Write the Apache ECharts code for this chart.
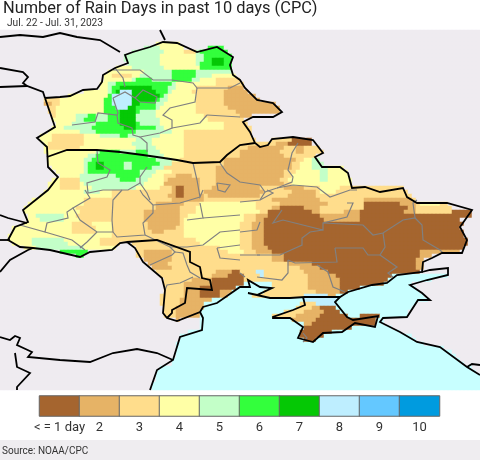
<!DOCTYPE html>
<html>
<head>
<meta charset="utf-8">
<style>html,body{margin:0;padding:0;background:#fff}#chart{width:480px;height:460px}</style>
<script src="https://cdn.jsdelivr.net/npm/echarts@6/dist/echarts.min.js"></script>
</head>
<body>
<div id="chart"></div>
<script>
const titleText = 'Number of Rain Days in past 10 days (CPC)';
const subtitleText = 'Jul. 22 - Jul. 31, 2023';
const sourceText = 'Source: NOAA/CPC';
const legendLabels = ['< = 1 day', '2', '3', '4', '5', '6', '7', '8', '9', '10'];
const legendValues = [1, 2, 3, 4, 5, 6, 7, 8, 9, 10];
const dayColors = ['#A5652F', '#E6B366', '#FFDD8C', '#FFFFA6', '#C3FFC8', '#33FF3C', '#05C805', '#BEEEFF', '#64C8FF', '#009BDF'];

// rain day class per grid row, as runs: class + last column (g other land, s sea)
const rainRows = [
  'g120', 'g120', 'g120',
  'g39 445 g120',
  'g36 540 446 g52 656 g120',
  'g33 541 446 349 550 657 g120',
  'g31 540 449 551 658 g120',
  'g31 540 449 551 653 756 658 g120',
  'g32 540 449 550 653 756 658 g120',
  'g29 433 541 450 658 g120',
  'g27 436 543 649 558 g120',
  'g26 428 333 435 543 649 553 459 g120',
  'g26 433 534 638 543 648 550 454 360 g120',
  'g25 427 529 643 544 454 361 g120',
  'g25 427 528 630 738 642 544 449 357 261 g120',
  'g21 427 528 629 730 833 739 642 543 448 356 262 g120',
  'g17 427 628 833 740 641 542 449 356 264 g120',
  'g11 315 426 628 833 739 640 542 449 356 265 g120',
  'g11 213 315 426 628 833 735 639 541 449 356 269 g120',
  'g12 314 426 629 832 734 639 540 449 357 270 g120',
  'g12 314 426 630 734 635 539 449 359 270 g120',
  'g13 314 419 522 624 527 630 734 539 451 360 263 g120',
  'g13 419 521 624 527 630 734 540 452 361 g120',
  'g14 418 524 630 734 635 540 456 362 g120',
  'g13 416 523 631 734 639 541 456 363 g120',
  'g12 420 524 634 543 446 363 g120',
  'g10 413 321 425 530 632 540 446 363 g120',
  'g10 413 321 434 538 446 364 g68 373 178 g120',
  'g11 412 321 433 538 446 369 272 178 g120',
  'g11 412 320 434 539 446 362 271 374 276 380 g120',
  'g11 424 525 630 534 637 540 446 360 270 374 276 381 g120',
  'g12 422 524 637 541 446 360 271 379 g120',
  'g12 421 523 639 543 445 356 274 376 478 580 g120',
  'g12 421 522 624 726 631 533 640 543 356 273 375 478 581 g120',
  'g13 421 522 624 726 631 533 638 541 354 273 375 478 582 486 g120',
  'g14 421 522 635 539 443 354 271 374 480 582 487 g120',
  'g15 420 529 635 538 441 344 248 354 271 373 480 582 487 g120',
  'g13 415 320 530 634 537 441 342 250 354 270 372 480 582 488 g120',
  'g12 415 320 421 536 441 250 354 271 373 488 g120',
  'g12 415 320 423 534 440 343 244 146 250 353 265 371 276 380 485 3101 g120',
  'g11 421 525 428 343 244 146 250 351 266 373 279 380 484 3102 g120',
  'g10 428 342 244 146 251 352 265 372 279 3103 g120',
  'g8 421 343 251 368 280 391 2103 3104 g120',
  'g7 421 339 246 350 464 370 282 391 1100 2104 3105 4110 3112 g120',
  'g6 419 339 245 349 464 368 270 176 280 391 1102 2104 3113 g120',
  'g6 420 336 245 349 465 367 178 280 386 290 1101 2104 3113 1118 g120',
  'g7 49 516 419 336 245 347 461 364 267 180 290 1118 g120',
  'g7 410 516 420 336 245 346 461 364 266 181 290 1115 g120',
  'g6 418 323 428 337 245 346 460 363 266 1116 g120',
  'g3 418 324 428 337 244 346 460 363 266 1115 g120',
  'g3 418 324 428 338 241 346 460 363 266 1116 g120',
  'g2 428 346 460 363 266 1116 g120',
  'g2 48 516 425 349 460 363 266 1117 g120',
  'g3 48 517 425 330 g33 350 460 363 266 1117 g120',
  'g6 49 521 429 g34 355 460 363 267 1116 g120',
  'g15 622 g34 336 243 357 461 364 268 1105 2115 g120',
  'g19 621 g34 336 243 368 271 1105 2108 g120',
  'g36 243 368 271 1104 2106 g120',
  'g37 242 372 278 1104 2106 g120',
  'g38 243 375 280 1104 2106 g120',
  'g39 354 258 160 364 866 376 282 1105 g120',
  'g40 353 257 161 365 866 377 284 198 s112 g120',
  'g41 348 253 161 377 285 197 s108 g120',
  'g41 346 253 161 s68 377 285 196 s103 g120',
  'g41 346 250 159 s68 377 285 190 s104 g120',
  'g41 346 250 155 258 s66 379 285 187 s105 g120',
  'g40 346 250 155 257 s63 376 882 284 s106 g120',
  'g40 345 253 s76 884 s107 g120',
  'g40 345 251 s75 379 884 s104 g120',
  'g41 344 251 s74 378 280 184 s103 g120',
  'g41 344 250 s71 376 281 185 s102 g120',
  'g41 344 250 s68 374 280 187 s90 195 s102 g120',
  'g44 245 g50 s73 279 194 s96 g120',
  'g50 s76 278 194 s96 g120',
  'g50 s76 188 s98 g120',
  'g47 s75 183 s100 g120',
  'g45 s75 181 s103 g120',
  'g45 s76 179 s104 g120',
  'g44 s106 g120',
  'g44 s111 g120',
  'g44 s113 g120',
  'g44 s114 g120',
  'g43 s115 g120',
  'g43 s116 g120',
  'g40 s118 g120',
  'g39 s119 g120',
  'g39 s120',
  'g39 s120',
  'g38 s120',
  'g38 s120'
];

// country borders, in map units
const countryLines = [
  [[45,98],[60,97],[70,96],[83,90],[97,89],[102,82],[103,75],[115,68],[128,63],[125,55],[133,52],[150,47],[163,42],[177,43],[197,52],[217,47],[233,57],[230,65],[233,75],[240,80],[245,88],[257,100],[273,103],[282,112],[273,117],[253,117],[243,122],[250,132],[255,143],[260,147],[268,145],[272,139],[293,137],[313,140],[323,153],[315,157],[322,167],[340,167],[348,173],[352,188],[365,187],[380,192],[403,188],[407,197],[417,203],[447,203],[472,210],[460,227],[467,240],[462,253],[442,253],[432,258],[423,262],[422,272],[397,275],[387,283],[372,285],[348,292],[340,297],[333,297],[305,297],[290,298],[270,298],[248,293],[257,295],[272,288],[260,287],[248,280],[250,287],[240,287],[217,303],[203,307],[200,312],[177,321],[167,318],[163,313],[165,290],[162,278],[143,262],[135,248],[127,242],[120,243],[112,250],[90,252],[80,257],[50,250],[33,248],[20,247],[8,240],[15,227],[28,222],[23,210],[48,190],[58,177],[48,167],[47,147],[37,138],[55,127],[45,98]],
  [[47,157],[67,150],[97,150],[120,152],[143,155],[157,157],[177,160],[193,163],[220,162],[227,155],[240,145],[255,143]],
  [[127,242],[157,240],[190,252],[190,262],[200,267],[202,278],[210,280],[212,290],[187,288],[185,303],[172,310],[172,313],[167,318]],
  [[340,297],[335,302],[347,317],[353,320],[378,316],[375,327],[355,323],[342,332],[323,333],[313,342],[298,338],[303,327],[290,318],[273,318],[273,317],[293,310],[305,305],[303,297]],
  [[0,37],[20,35],[43,37],[60,33],[77,37],[100,40],[120,52]],
  [[160,30],[165,40]],
  [[0,68],[23,72],[28,77],[23,83],[27,86]],
  [[0,87],[27,86],[43,92],[45,98]],
  [[0,215],[8,218],[27,223]],
  [[0,240],[10,240]],
  [[33,248],[28,250],[10,260],[0,272]],
  [[200,312],[203,318],[202,330],[180,337],[173,360],[157,370],[150,390]],
  [[0,337],[10,340],[15,336],[20,338],[17,345],[32,352],[28,357],[60,360],[90,362],[113,353],[137,349],[157,353],[173,360]],
  [[15,353],[17,367],[30,373],[17,387],[17,390]],
  [[422,272],[430,270],[448,268],[448,275],[427,280],[410,285],[422,293],[430,300],[418,300],[407,317],[383,318],[380,322],[400,332],[417,342],[440,347],[467,367],[480,375]],
  [[467,367],[472,364],[480,365]]
];

// oblast borders, in map units
const oblastLines = [
  [[113,70],[140,70],[153,80],[172,80],[193,83],[197,88],[230,88],[240,83]],
  [[115,68],[123,78],[125,87]],
  [[197,88],[195,102],[170,108],[163,115],[172,120],[172,128],[160,133],[140,137],[147,143],[147,152]],
  [[207,115],[200,123],[172,128]],
  [[207,115],[240,117]],
  [[113,98],[118,113],[117,115],[98,113],[95,122],[72,125]],
  [[117,115],[118,123],[132,128],[133,135],[140,137]],
  [[135,98],[143,90],[157,97],[155,103],[140,102],[135,98]],
  [[113,98],[125,92],[135,98]],
  [[97,150],[98,163],[110,170],[107,177],[87,183],[88,193],[103,190],[113,190],[128,190],[140,183],[147,193],[150,200]],
  [[147,167],[140,177],[140,183]],
  [[193,163],[197,180],[200,197],[203,190]],
  [[217,183],[230,185],[225,192],[218,190],[217,183]],
  [[220,163],[227,173],[240,182],[260,185],[265,192],[260,200]],
  [[298,143],[292,153],[288,170],[293,177],[292,182],[277,188],[265,192]],
  [[277,188],[293,185],[317,187],[330,197],[350,190],[357,190]],
  [[85,190],[90,198],[73,208],[80,220],[97,232],[113,232],[112,220],[113,200],[122,190]],
  [[73,208],[67,212],[68,218],[47,223],[45,232],[20,225]],
  [[45,232],[72,240],[85,250]],
  [[97,232],[87,242],[80,248]],
  [[113,232],[117,237],[145,235],[143,223],[153,213],[153,205],[180,203],[200,197]],
  [[153,205],[143,195],[140,190]],
  [[200,203],[203,218],[187,220]],
  [[203,218],[240,215]],
  [[240,230],[220,232],[203,245],[187,247],[170,247],[145,235]],
  [[217,248],[240,245]],
  [[217,248],[220,258],[240,260]],
  [[170,247],[175,252],[172,255],[150,265]],
  [[175,252],[183,253],[187,265],[190,272],[200,278]],
  [[193,277],[180,283],[167,285],[165,290]],
  [[240,202],[260,200],[273,193],[267,190]],
  [[282,210],[273,223],[283,220],[323,230],[323,223],[347,217],[353,203],[347,203]],
  [[323,223],[363,225],[373,235],[383,233],[403,220],[415,218],[422,225],[423,240],[440,250],[443,253]],
  [[415,218],[413,203],[417,200]],
  [[323,230],[310,232],[302,238],[302,245],[280,255],[257,255]],
  [[335,248],[363,248],[368,255],[380,255],[385,247],[383,233]],
  [[335,248],[337,262],[295,263],[288,260]],
  [[380,255],[397,267],[388,273],[393,277]],
  [[288,260],[288,273],[282,280],[257,277]],
  [[317,265],[328,272],[333,287],[345,292]],
  [[240,232],[257,230],[260,222]],
  [[240,255],[260,255]],
  [[240,273],[245,277]],
  [[303,333],[307,338],[303,342]]
];

const fontName = 'Roboto';
const colCount = 120;
const classIndex = { g: 0, s: 11 };

// expand the runs into heatmap cells
const cells = [];
rainRows.forEach((row, r) => {
  let col = 0;
  row.split(' ').forEach((run) => {
    const key = run[0];
    const end = +run.slice(1);
    const value = key in classIndex ? classIndex[key] : +key;
    for (; col < end; col++) cells.push([col, r, value]);
  });
});

const colNames = Array.from({ length: colCount }, (_, i) => i);
const rowNames = rainRows.map((_, i) => i);
const pieces = [{ value: 0, color: '#EFEBF0' }, { value: 11, color: '#C8FFFF' }]
  .concat(legendValues.map((v, i) => ({ value: v, color: dayColors[i] })));

const chart = echarts.init(document.getElementById('chart'), null, { renderer: 'canvas' });
chart.setOption({
  animation: false,
  backgroundColor: '#fff',
  textStyle: { fontFamily: fontName },
  title: [
    { text: titleText, left: 3, top: 1, padding: 0, textStyle: { fontFamily: fontName, fontSize: 16.4, fontWeight: 'normal', color: '#222' } },
    { text: subtitleText, left: 7, top: 18, padding: 0, textStyle: { fontFamily: fontName, fontSize: 10.2, fontWeight: 'normal', color: '#333' } },
    { text: sourceText, left: 2, top: 446, padding: 0, textStyle: { fontFamily: fontName, fontSize: 10, fontWeight: 'normal', color: '#333' } }
  ],
  graphic: [{ type: 'rect', z: -1, shape: { x: 0, y: 440, width: 480, height: 20 }, style: { fill: '#EFEDF0' }, silent: true }],
  visualMap: { show: false, type: 'piecewise', dimension: 2, pieces: pieces, seriesIndex: [0, 3] },
  grid: [
    { left: 0, top: 30, width: 480, height: 360 },
    { left: 0, top: 30, width: 480, height: 360 },
    { left: 39.5, top: 396, width: 400, height: 20 }
  ],
  xAxis: [
    { type: 'category', gridIndex: 0, data: colNames, show: false },
    { type: 'value', gridIndex: 1, min: 0, max: 480, show: false },
    {
      type: 'category', gridIndex: 2, data: legendLabels, position: 'bottom',
      axisLine: { show: false }, axisTick: { show: false },
      axisLabel: { interval: 0, margin: 5, fontSize: 13, color: '#333', fontFamily: fontName }
    }
  ],
  yAxis: [
    { type: 'category', gridIndex: 0, data: rowNames, inverse: true, show: false },
    { type: 'value', gridIndex: 1, min: 30, max: 390, inverse: true, show: false },
    { type: 'category', gridIndex: 2, data: ['days'], show: false }
  ],
  series: [
    { type: 'heatmap', xAxisIndex: 0, yAxisIndex: 0, data: cells, silent: true, progressive: 0, z: 1 },
    {
      type: 'lines', coordinateSystem: 'cartesian2d', xAxisIndex: 1, yAxisIndex: 1, polyline: true, silent: true, z: 2,
      lineStyle: { color: '#808080', width: 1.2, opacity: 1 },
      data: oblastLines.map((coords) => ({ coords }))
    },
    {
      type: 'lines', coordinateSystem: 'cartesian2d', xAxisIndex: 1, yAxisIndex: 1, polyline: true, silent: true, z: 3,
      lineStyle: { color: '#000', width: 1.8, opacity: 1 },
      data: countryLines.map((coords) => ({ coords }))
    },
    {
      type: 'heatmap', xAxisIndex: 2, yAxisIndex: 2, silent: true, progressive: 0, z: 4,
      itemStyle: { borderColor: '#666', borderWidth: 1 },
      data: legendValues.map((v, i) => [i, 0, v])
    }
  ]
});
</script>
</body>
</html>
